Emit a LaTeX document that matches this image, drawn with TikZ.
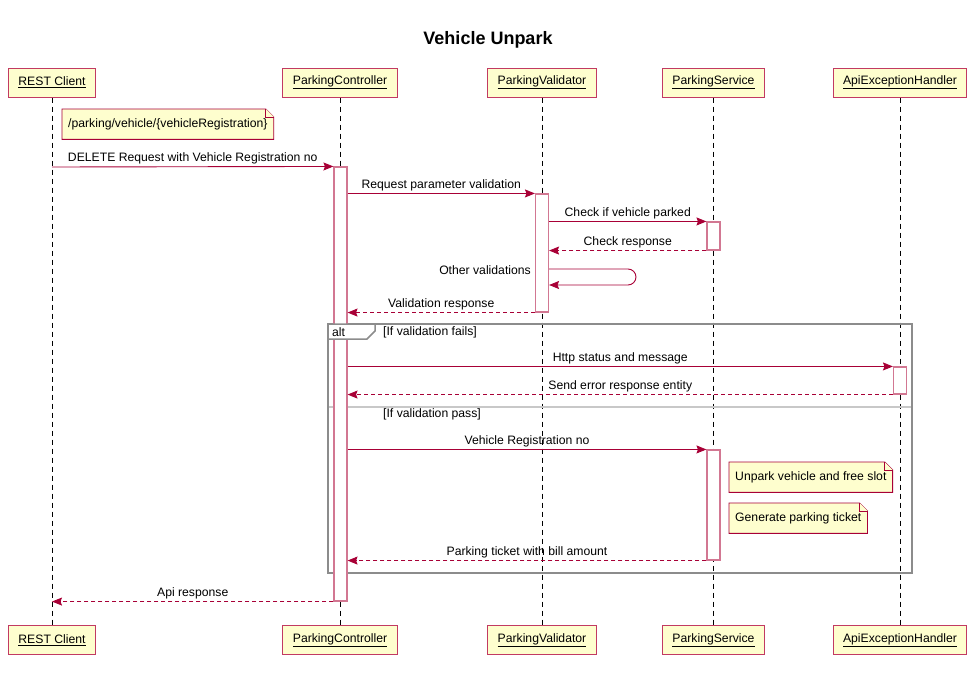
\documentclass[tikz,border=0pt]{standalone}
\usepackage{fontspec}
\setmainfont{Liberation Sans}
\usetikzlibrary{arrows.meta}
\definecolor{pborder}{HTML}{A80036}
\definecolor{pbox}{HTML}{C23A62}
\definecolor{pfill}{HTML}{FEFECE}
\definecolor{actb}{HTML}{D27792}
\definecolor{framec}{HTML}{8C8C8C}
\definecolor{sepc}{HTML}{C8C8C8}
\begin{document}
\begin{tikzpicture}[x=1pt,y=-1pt,
  every node/.style={font=\fontsize{12.2}{14}\selectfont, text=black},
  part/.style={draw=pbox, fill=pfill, line width=1pt, inner xsep=10pt, inner ysep=0pt, minimum height=29pt},
  life/.style={black, line width=0.8pt, dash pattern=on 5pt off 4pt},
  act/.style={draw=actb, fill=white, line width=1.1pt, minimum width=13pt, inner sep=0pt},
  msg/.style={draw=pborder, line width=0.9pt, -{Stealth[length=10pt,width=8pt,inset=1.5pt]}},
  ret/.style={msg, dash pattern=on 4pt off 3pt},
  lbl/.style={above, inner sep=2pt},
  note/.style={inner xsep=6pt, inner ysep=0pt, minimum height=30pt, anchor=north west},
  noteshape/.style={draw=pborder, fill=pfill, line width=0.9pt},
  frame/.style={draw=framec, line width=1.5pt},
  guard/.style={anchor=west, inner sep=0pt}]
\useasboundingbox (0,0) rectangle (975,678);

% title
\node[font=\bfseries\fontsize{18}{20}\selectfont] (title) at (488,40) {Vehicle Unpark};

% participants (top)
\node[part] (rcT) at (52,82.5) {\underline{REST Client}};
\node[part] (pcT) at (340,82.5) {\underline{ParkingController}};
\node[part] (pvT) at (542,82.5) {\underline{ParkingValidator}};
\node[part] (psT) at (713.5,82.5) {\underline{ParkingService}};
\node[part] (aeT) at (900,82.5) {\underline{ApiExceptionHandler}};
% participants (bottom)
\node[part] (rcB) at (52,640) {\underline{REST Client}};
\node[part] (pcB) at (340,640) {\underline{ParkingController}};
\node[part] (pvB) at (542,640) {\underline{ParkingValidator}};
\node[part] (psB) at (713.5,640) {\underline{ParkingService}};
\node[part] (aeB) at (900,640) {\underline{ApiExceptionHandler}};

% lifelines
\draw[life] (rcT.south) -- (rcB.north);
\draw[life] (pcT.south) -- (pcB.north);
\draw[life] (pvT.south) -- (pvB.north);
\draw[life] (psT.south) -- (psB.north);
\draw[life] (aeT.south) -- (aeB.north);

% alt frame outline
\draw[frame] (328,324) rectangle (912,573);
\draw[draw=sepc, line width=1.2pt] (329,407) -- (911,407);

% note 1
\node[note] (n1) at (62,109) {/parking/vehicle/\{vehicleRegistration\}\hspace{7pt}};
\draw[noteshape] (n1.north west) -- ([xshift=-8pt]n1.north east) -- ([yshift=-8pt]n1.north east) -- (n1.south east) -- (n1.south west) -- cycle;
\draw[noteshape] ([xshift=-8pt]n1.north east) -- ([xshift=-8pt,yshift=-8pt]n1.north east) -- ([yshift=-8pt]n1.north east);
\node[note] at (62,109) {/parking/vehicle/\{vehicleRegistration\}\hspace{7pt}};

% activations
\node[act, minimum height=434pt] (ca) at (340.5,384) {};
\node[act, minimum height=118pt] (va) at (542,253) {};
\node[act, minimum height=28pt] (s1) at (713.5,236) {};
\node[act, minimum height=27pt] (ap) at (900,380.5) {};
\node[act, minimum height=110pt] (s2) at (713.5,505) {};

% alt tab and guards (over activations)
\draw[frame, fill=white] (328,324) -- (328,339) -- (367,339) -- (375,331) -- (375,324) -- cycle;
\node[guard] (alt) at (332,332) {alt};
\node[guard] (g1) at (383,332) {[If validation fails]};
\node[guard] (g2) at (383,414) {[If validation pass]};

% notes 2 and 3
\node[note] (n2) at (729,462) {Unpark vehicle and free slot\hspace{2pt}};
\draw[noteshape] (n2.north west) -- ([xshift=-8pt]n2.north east) -- ([yshift=-8pt]n2.north east) -- (n2.south east) -- (n2.south west) -- cycle;
\draw[noteshape] ([xshift=-8pt]n2.north east) -- ([xshift=-8pt,yshift=-8pt]n2.north east) -- ([yshift=-8pt]n2.north east);
\node[note] at (729,462) {Unpark vehicle and free slot\hspace{2pt}};

\node[note] (n3) at (729,503) {Generate parking ticket\hspace{2pt}};
\draw[noteshape] (n3.north west) -- ([xshift=-8pt]n3.north east) -- ([yshift=-8pt]n3.north east) -- (n3.south east) -- (n3.south west) -- cycle;
\draw[noteshape] ([xshift=-8pt]n3.north east) -- ([xshift=-8pt,yshift=-8pt]n3.north east) -- ([yshift=-8pt]n3.north east);
\node[note] at (729,503) {Generate parking ticket\hspace{2pt}};

% messages
\coordinate (m1a) at (52,167);
\draw[msg] (m1a) -- (ca.north west) node[lbl,midway] {DELETE Request with Vehicle Registration no};
\draw[msg] (ca.east |- va.north) -- (va.north west) node[lbl,midway] {Request parameter validation};
\draw[msg] (va.east |- s1.north) -- (s1.north west) node[lbl,midway] {Check if vehicle parked};
\draw[ret] (s1.south west) -- (va.east |- s1.south) node[lbl,midway] {Check response};
\coordinate (ov1) at (636,269);
\coordinate (ov2) at (636,285);
\draw[msg, rounded corners=8pt] (va.east |- ov1) -- (ov1) -- (ov2) -- (va.east |- ov2);
\node[anchor=east, inner sep=0pt] (ovl) at (531,270) {Other validations};
\draw[ret] (va.south west) -- (ca.east |- va.south) node[lbl,midway] {Validation response};
\draw[msg] (ca.east |- ap.north) -- (ap.north west) node[lbl,midway] {Http status and message};
\draw[ret] (ap.south west) -- (ca.east |- ap.south) node[lbl,midway] {Send error response entity};
\draw[msg] (ca.east |- s2.north) -- (s2.north west) node[lbl,midway] {Vehicle Registration no};
\draw[ret] (s2.south west) -- (ca.east |- s2.south) node[lbl,midway] {Parking ticket with bill amount};
\draw[ret] (ca.south west) -- (rcT.south |- ca.south) node[lbl,midway] {Api response};
\end{tikzpicture}
\end{document}
